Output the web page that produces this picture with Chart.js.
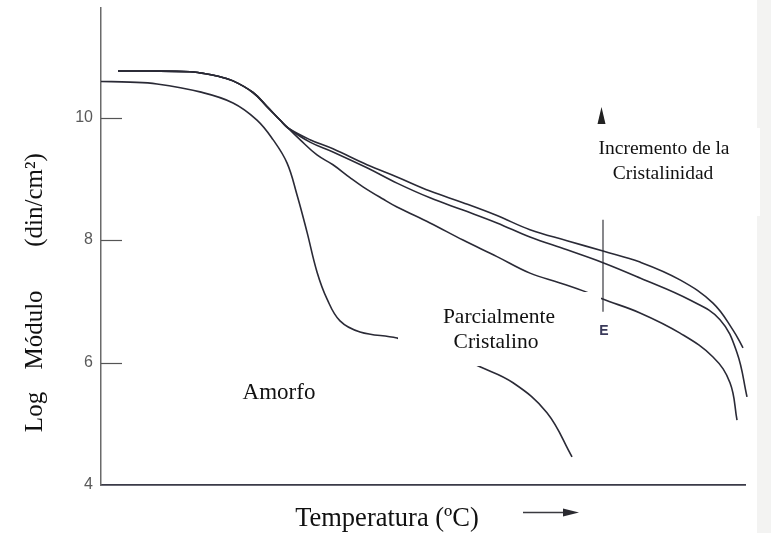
<!DOCTYPE html>
<html lang="es">
<head>
    <meta charset="UTF-8">
    <title>Log Módulo vs Temperatura</title>
    <script src="https://cdn.jsdelivr.net/npm/chart.js"></script>
    <style>
        body { margin: 0; background: #fff; }
        #wrap { width: 771px; height: 533px; }
    </style>
</head>
<body>
    <div id="wrap"><canvas id="grafico" width="771" height="533"></canvas></div>

    <script>
        // valores (temperatura en unidades arbitrarias 0-100)
        const yTicks = [4, 6, 8, 10];

        // tramo común de las curvas parcialmente cristalinas
        const inicioT = [2.64, 7.61, 13.82, 15.37, 18.01, 20.50, 23.60, 25.78, 27.80, 29.04];
        const inicioLog = [10.76, 10.76, 10.75, 10.73, 10.68, 10.60, 10.41, 10.18, 9.96, 9.83];

        const altaT = [32.45, 36.02, 41.30, 45.96, 51.09, 56.21, 61.49, 66.61, 72.36, 77.95, 83.70, 89.91, 95.03, 98.14, 99.69];
        const altaLog = [9.64, 9.49, 9.23, 9.03, 8.80, 8.61, 8.40, 8.17, 7.99, 7.82, 7.64, 7.35, 6.97, 6.53, 6.24];

        const mediaT = [32.45, 36.02, 41.30, 45.96, 51.09, 56.21, 61.49, 66.61, 72.36, 77.95, 83.70, 91.46, 96.12, 98.76, 100.31];
        const mediaLog = [9.60, 9.44, 9.18, 8.93, 8.69, 8.49, 8.28, 8.05, 7.84, 7.63, 7.38, 7.02, 6.70, 6.16, 5.44];

        const bajaT = [30.90, 33.54, 36.02, 38.66, 40.68, 43.79, 45.96, 51.09, 56.21, 61.49, 66.61, 71.27, 75.62, 77.80, 83.70, 89.91, 95.03, 97.67, 98.76];
        const bajaLog = [9.64, 9.39, 9.23, 9.02, 8.87, 8.67, 8.54, 8.28, 8.00, 7.73, 7.46, 7.30, 7.14, 7.04, 6.81, 6.48, 6.09, 5.67, 5.06];

        const amorfoT = [0, 4.50, 8.70, 15.37, 20.50, 24.22, 26.71, 28.88, 30.43, 31.99, 33.54, 35.09, 37.11, 40.22, 45.96, 52.64, 58.85, 63.98, 69.25, 73.14];
        const amorfoLog = [10.59, 10.58, 10.55, 10.42, 10.24, 9.96, 9.64, 9.26, 8.74, 8.13, 7.48, 7.04, 6.68, 6.50, 6.40, 6.21, 5.93, 5.67, 5.18, 4.46];

        // marca vertical "E"
        const marcaT = [77.95, 77.95];
        const marcaLog = [8.33, 6.83];

        function puntos(xs, ys) {
            return xs.map((x, i) => ({ x: x, y: ys[i] }));
        }

        const tinta = '#2a2a36';
        const serif = "'Liberation Serif', 'Times New Roman', serif";

        function curva(datos) {
            return {
                data: datos,
                borderColor: tinta,
                borderWidth: 1.6,
                pointRadius: 0,
                tension: 0.4,
                clip: false
            };
        }

        // fondo, recuadros blancos de los textos, rótulos y flechas
        const anotaciones = {
            id: 'anotaciones',
            beforeDraw(chart) {
                const ctx = chart.ctx;
                ctx.save();
                ctx.fillStyle = '#fff';
                ctx.fillRect(0, 0, chart.width, chart.height);
                ctx.fillStyle = '#f3f3f2';
                ctx.fillRect(757, 0, chart.width - 757, chart.height);
                ctx.restore();
            },
            afterDatasetsDraw(chart) {
                const ctx = chart.ctx;
                const ejeY = chart.scales.y;
                const area = chart.chartArea;
                ctx.save();

                // marcas de división hacia dentro
                ctx.strokeStyle = '#555';
                ctx.lineWidth = 1.2;
                yTicks.forEach(v => {
                    if (v === ejeY.min) return;
                    const py = Math.round(ejeY.getPixelForValue(v)) + 0.5;
                    ctx.beginPath();
                    ctx.moveTo(area.left, py);
                    ctx.lineTo(area.left + 21, py);
                    ctx.stroke();
                });

                // recuadros blancos que tapan las curvas
                ctx.fillStyle = '#fff';
                ctx.fillRect(398, 292, 203, 74);
                ctx.fillRect(585, 128, 175, 88);

                ctx.fillStyle = '#111';
                ctx.textAlign = 'center';
                ctx.textBaseline = 'alphabetic';

                ctx.font = '19.5px ' + serif;
                ctx.fillText('Incremento de la', 664, 154);
                ctx.fillText('Cristalinidad', 663, 179);

                ctx.font = '21.5px ' + serif;
                ctx.fillText('Parcialmente', 499, 323);
                ctx.fillText('Cristalino', 496, 348);

                ctx.font = '23px ' + serif;
                ctx.fillText('Amorfo', 279, 399);

                // letra E
                ctx.fillStyle = '#3a3a5a';
                ctx.font = 'bold 14px "Liberation Sans", Arial, sans-serif';
                ctx.fillText('E', 604, 335);

                // flecha de incremento
                ctx.fillStyle = '#222';
                ctx.beginPath();
                ctx.moveTo(601.5, 107);
                ctx.lineTo(605.5, 124);
                ctx.lineTo(597.5, 124);
                ctx.closePath();
                ctx.fill();

                // título del eje x y flecha
                ctx.fillStyle = '#111';
                ctx.font = '26.5px ' + serif;
                ctx.fillText('Temperatura (ºC)', 387, 526);
                ctx.strokeStyle = '#3a3a40';
                ctx.lineWidth = 1.6;
                ctx.beginPath();
                ctx.moveTo(523, 512.5);
                ctx.lineTo(567, 512.5);
                ctx.stroke();
                ctx.fillStyle = '#2a2a30';
                ctx.beginPath();
                ctx.moveTo(563, 508.5);
                ctx.lineTo(579, 512.5);
                ctx.lineTo(563, 516.5);
                ctx.closePath();
                ctx.fill();

                // título del eje y
                ctx.fillStyle = '#111';
                ctx.translate(35, 0);
                ctx.rotate(-Math.PI / 2);
                ctx.textBaseline = 'middle';
                ctx.font = '25px ' + serif;
                ctx.fillText('Log', -412, 0);
                ctx.fillText('Módulo', -330, 0);
                ctx.fillText('(din/cm²)', -200, 0);

                ctx.restore();
            }
        };

        new Chart(document.getElementById('grafico'), {
            type: 'line',
            data: {
                datasets: [
                    curva(puntos(amorfoT, amorfoLog)),
                    curva(puntos(inicioT.concat(altaT), inicioLog.concat(altaLog))),
                    curva(puntos(inicioT.concat(mediaT), inicioLog.concat(mediaLog))),
                    curva(puntos(inicioT.concat(bajaT), inicioLog.concat(bajaLog))),
                    {
                        data: puntos(marcaT, marcaLog),
                        borderColor: '#3a3a40',
                        borderWidth: 1.2,
                        pointRadius: 0,
                        clip: false
                    }
                ]
            },
            options: {
                responsive: false,
                animation: false,
                layout: { autoPadding: false, padding: { top: 8, right: 26, left: 0, bottom: 0 } },
                scales: {
                    x: {
                        type: 'linear',
                        min: 0,
                        max: 100,
                        ticks: { display: false },
                        grid: { drawOnChartArea: false, drawTicks: false },
                        border: { color: '#3a3a48', width: 1.8 },
                        afterFit(scale) {
                            scale.height = 48;
                            scale.paddingLeft = 0;
                            scale.paddingRight = 0;
                        }
                    },
                    y: {
                        type: 'linear',
                        min: 4,
                        max: 11.79,
                        afterBuildTicks(scale) {
                            scale.ticks = yTicks.map(v => ({ value: v }));
                        },
                        ticks: {
                            padding: 8,
                            color: '#5a5a5a',
                            font: { family: "'Liberation Sans', Arial, sans-serif", size: 16 }
                        },
                        grid: { drawOnChartArea: false, drawTicks: false },
                        border: { color: '#6a6a6a', width: 1.5 },
                        afterFit(scale) {
                            scale.width = 101;
                            scale.paddingTop = 0;
                            scale.paddingBottom = 0;
                        }
                    }
                },
                plugins: {
                    legend: { display: false },
                    tooltip: { enabled: false }
                }
            },
            plugins: [anotaciones]
        });
    </script>
</body>
</html>
